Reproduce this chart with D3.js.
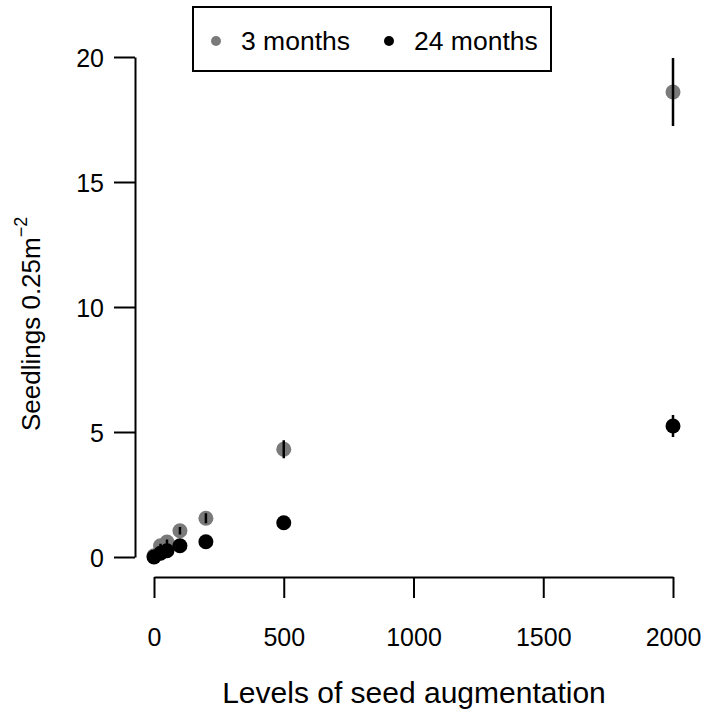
<!DOCTYPE html>
<html><head><meta charset="utf-8">
<script src="https://cdn.jsdelivr.net/npm/d3@7"></script>
<style>body{margin:0;background:#fff}svg{display:block}text{font-family:"Liberation Sans",Arial,sans-serif;fill:#000}</style>
</head><body>
<script>
const levels = [0, 25, 50, 100, 200, 500, 2000];
const mean3 = [0.05, 0.45, 0.6, 1.05, 1.55, 4.31, 18.6];
const se3 = [0.02, 0.08, 0.1, 0.15, 0.2, 0.36, 1.36];
const mean24 = [0.0, 0.15, 0.25, 0.45, 0.61, 1.37, 5.24];
const se24 = [0.01, 0.04, 0.05, 0.06, 0.08, 0.12, 0.44];
const xTicks = [0, 500, 1000, 1500, 2000];
const yTicks = [0, 5, 10, 15, 20];
const seriesNames = ["3 months", "24 months"];
const seriesColors = ["#7a7a7a", "#000000"];

const W = 708, H = 722;
const svg = d3.select("body").append("svg").attr("width", W).attr("height", H);
const x = d3.scaleLinear().domain([0, 2000]).range([154, 673]);
const y = d3.scaleLinear().domain([0, 20]).range([557, 57]);

// axes
const xAxis = d3.axisBottom(x).tickValues(xTicks).tickFormat(d3.format("d"))
  .tickSize(21).tickPadding(30).tickSizeOuter(0);
const gx = svg.append("g").attr("transform", "translate(0,577)").call(xAxis);
const yAxis = d3.axisLeft(y).tickValues(yTicks).tickFormat(d3.format("d"))
  .tickSize(21).tickPadding(10).tickSizeOuter(0);
const gy = svg.append("g").attr("transform", "translate(135,0)").call(yAxis);
[gx, gy].forEach(g => {
  g.select(".domain").attr("stroke", "#000").attr("stroke-width", 2);
  g.selectAll(".tick line").attr("stroke", "#000").attr("stroke-width", 2);
  g.selectAll(".tick text").attr("font-size", 25).attr("font-family", "Liberation Sans, Arial, sans-serif").attr("fill", "#000");
});
gy.selectAll(".tick text").attr("dy", "0.36em");

// axis titles
svg.append("text").attr("x", 414).attr("y", 703).attr("text-anchor", "middle")
  .attr("font-size", 30).text("Levels of seed augmentation");
const yl = svg.append("text").attr("transform", "translate(40,431) rotate(-90)")
  .attr("text-anchor", "start").attr("font-size", 26);
yl.append("tspan").text("Seedlings 0.25m");
yl.append("tspan").attr("font-size", 18).attr("dy", -13).text("\u22122");

// series
const series = [
  {name: seriesNames[0], color: seriesColors[0], m: mean3, se: se3},
  {name: seriesNames[1], color: seriesColors[1], m: mean24, se: se24}
];
series.forEach(s => {
  const data = levels.map((l, i) => ({l, m: s.m[i], se: s.se[i]}));
  const g = svg.append("g");
  g.selectAll("circle").data(data).join("circle")
    .attr("cx", d => x(d.l)).attr("cy", d => y(d.m)).attr("r", 7.5).attr("fill", s.color);
  g.selectAll("line").data(data).join("line")
    .attr("x1", d => x(d.l)).attr("x2", d => x(d.l))
    .attr("y1", d => y(d.m - d.se)).attr("y2", d => y(d.m + d.se))
    .attr("stroke", "#000").attr("stroke-width", 2.5);
});

// legend
const lg = svg.append("g");
lg.append("rect").attr("x", 193).attr("y", 7).attr("width", 358).attr("height", 64)
  .attr("fill", "#fff").attr("stroke", "#000").attr("stroke-width", 2);
const lx = [216, 389];
series.forEach((s, i) => {
  lg.append("circle").attr("cx", lx[i]).attr("cy", 41).attr("r", 5).attr("fill", s.color);
  lg.append("text").attr("x", lx[i] + 25).attr("y", 50).attr("font-size", 26.5).text(s.name);
});
</script>
</body></html>
